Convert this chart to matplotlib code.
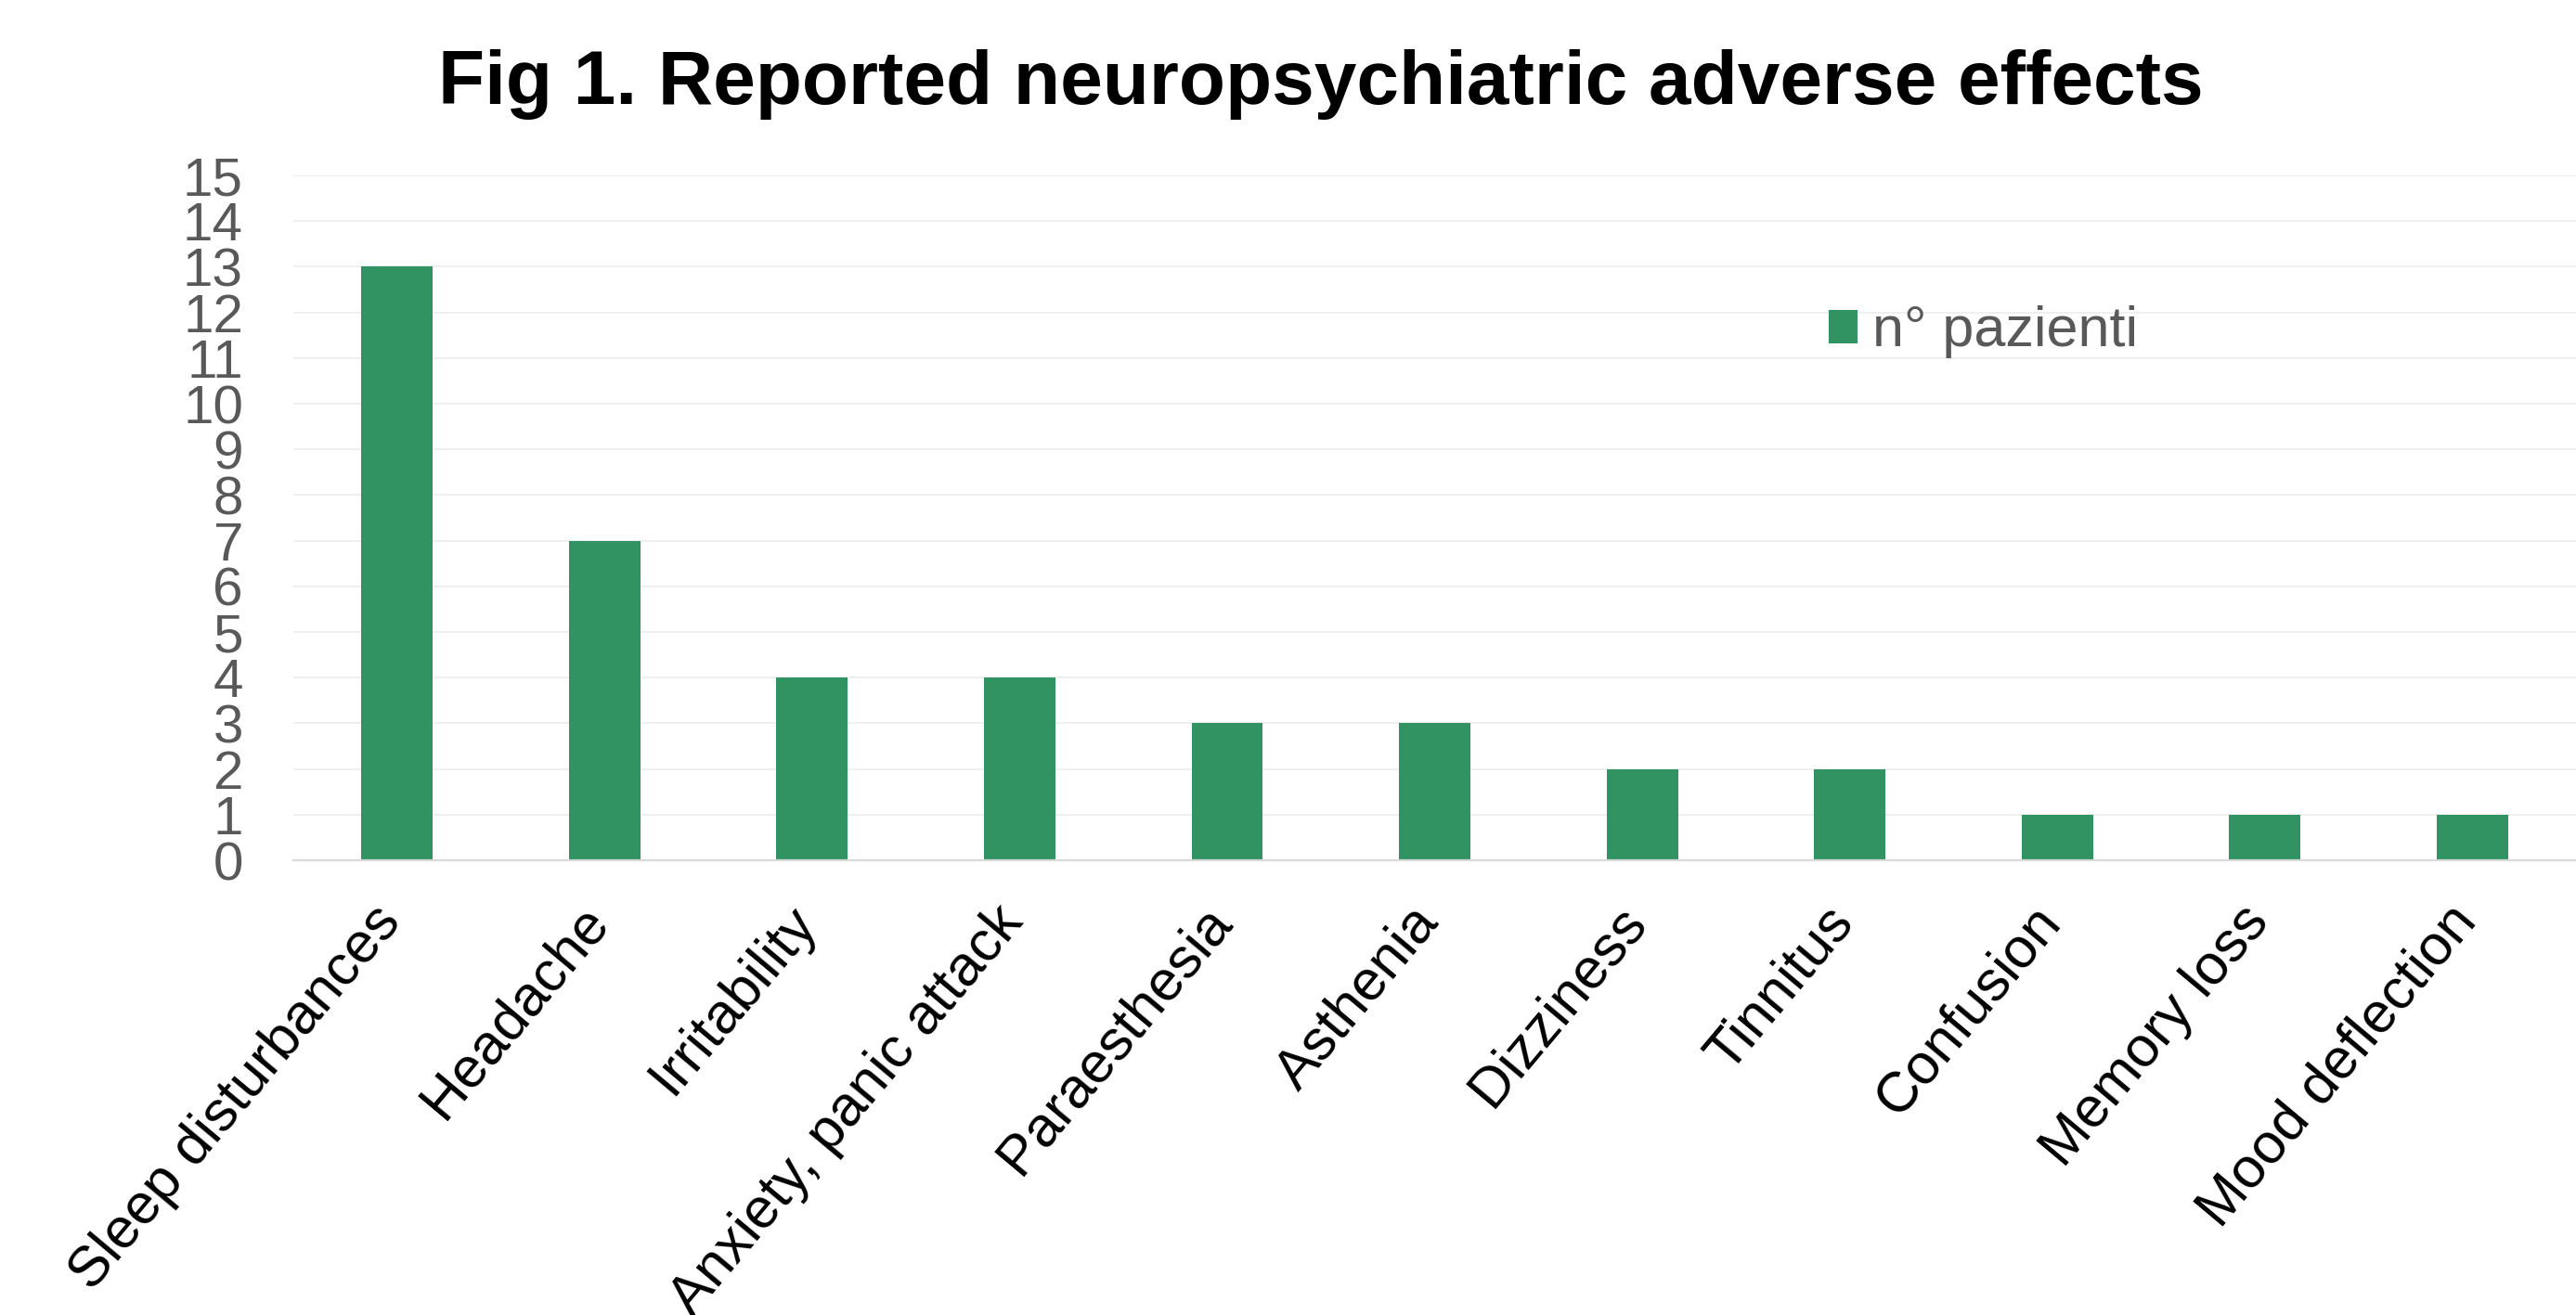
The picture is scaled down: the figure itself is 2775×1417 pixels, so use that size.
import matplotlib.pyplot as plt
from matplotlib.transforms import ScaledTranslation

effects = [
    "Sleep disturbances", "Headache", "Irritability", "Anxiety, panic attack",
    "Paraesthesia", "Asthenia", "Dizziness", "Tinnitus", "Confusion",
    "Memory loss", "Mood deflection",
]
n_patients = [13, 7, 4, 4, 3, 3, 2, 2, 1, 1, 1]
y_ticks = list(range(0, 16))

BAR_COLOR = "#319362"
GRAY_TEXT = "#595959"

plt.rcParams["font.family"] = ["Liberation Sans", "DejaVu Sans"]

fig = plt.figure(figsize=(27.75, 14.17), dpi=100)
ax = fig.add_axes([0.1139, 0.3458, 0.8861, 0.5208])

positions = range(len(effects))
ax.bar(positions, n_patients, width=0.344, color=BAR_COLOR, label="n° pazienti", zorder=3)

ax.set_xlim(-0.5, len(effects) - 0.5)
ax.set_ylim(0, 15)
ax.set_yticks(y_ticks)
ax.set_yticklabels([str(t) for t in y_ticks], fontsize=42, color=GRAY_TEXT)
ax.tick_params(axis="y", length=0, pad=39)
ax.grid(axis="y", color="#EFEFEF", linewidth=1.4, zorder=0)

# rotated category labels, anchored at their right end just under each bar
ax.set_xticks(list(positions))
ax.set_xticklabels(effects, fontsize=44, color="black", rotation=50,
                   ha="right", va="center", rotation_mode="anchor")
ax.tick_params(axis="x", length=0, pad=41)
shift = ScaledTranslation(-6 / 100, 0, fig.dpi_scale_trans)
for label in ax.get_xticklabels():
    label.set_transform(label.get_transform() + shift)

for side in ["top", "right", "left"]:
    ax.spines[side].set_visible(False)
ax.spines["bottom"].set_color("#D9D9D9")
ax.spines["bottom"].set_linewidth(1.6)
ax.spines["bottom"].set_zorder(4)

fig.text(0.5126, 1 - 112 / 1417, "Fig 1. Reported neuropsychiatric adverse effects",
         ha="center", va="baseline", fontsize=59, fontweight="bold", color="black")

leg = ax.legend(loc="center left", bbox_to_anchor=(1970 / 2775, 1 - 358 / 1417),
                bbox_transform=fig.transFigure, frameon=False, fontsize=44,
                handlelength=0.51, handleheight=0.52, handletextpad=0.26,
                borderpad=0, borderaxespad=0)
for text in leg.get_texts():
    text.set_color(GRAY_TEXT)

fig.savefig("out.png", dpi=100, facecolor="white")
